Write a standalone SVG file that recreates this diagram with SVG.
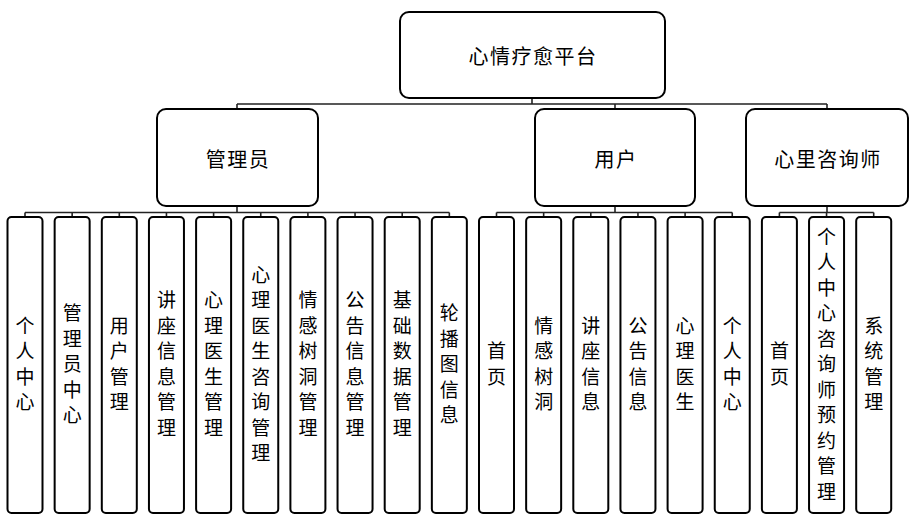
<svg xmlns="http://www.w3.org/2000/svg" width="909" height="525" viewBox="0 0 909 525">
<style>
.box{fill:#fff;stroke:#000;stroke-width:2}
.t{font-family:"Noto Sans CJK SC","Noto Sans",sans-serif;font-size:19px;fill:#000;text-anchor:middle;dominant-baseline:central}
.h{font-size:20px;letter-spacing:1.5px}
.c{fill:none;stroke:#222;stroke-width:1.6}
</style>
<rect width="909" height="525" fill="#fff"/>
<g id="connectors">
<path class="c" d="M532 98V104M237 104H827M237 104V109M615 104V109M827 104V109"/>
<path class="c" d="M237 206V212.5M25 212.5H449.35M25 212.5V217M72.15 212.5V217M119.3 212.5V217M166.45 212.5V217M213.6 212.5V217M260.75 212.5V217M307.9 212.5V217M355.05 212.5V217M402.2 212.5V217M449.35 212.5V217"/>
<path class="c" d="M615 206V212.5M496.5 212.5H732.25M496.5 212.5V217M543.65 212.5V217M590.8 212.5V217M637.95 212.5V217M685.1 212.5V217M732.25 212.5V217"/>
<path class="c" d="M827 206V212.5M779.4 212.5H873.7M779.4 212.5V217M826.55 212.5V217M873.7 212.5V217"/>
</g>
<g id="root"><rect class="box" x="400" y="12" width="265" height="86" rx="9"/><text class="t h" x="533" y="55">心情疗愈平台</text></g>
<g id="admin"><rect class="box" x="157" y="109" width="161" height="97" rx="9"/><text class="t h" x="238" y="158">管理员</text></g>
<g id="user"><rect class="box" x="535" y="109" width="160" height="97" rx="9"/><text class="t h" x="616" y="158">用户</text></g>
<g id="counselor"><rect class="box" x="746" y="109" width="162" height="97" rx="9"/><text class="t h" x="828" y="158">心里咨询师</text></g>
<g id="leaf0"><rect class="box" x="7.5" y="217" width="35" height="296" rx="4"/><text class="t"><tspan x="25" y="323.75">个</tspan><tspan x="25" y="349.25">人</tspan><tspan x="25" y="374.75">中</tspan><tspan x="25" y="400.25">心</tspan></text></g>
<g id="leaf1"><rect class="box" x="54.65" y="217" width="35" height="296" rx="4"/><text class="t"><tspan x="72.15" y="311">管</tspan><tspan x="72.15" y="336.5">理</tspan><tspan x="72.15" y="362">员</tspan><tspan x="72.15" y="387.5">中</tspan><tspan x="72.15" y="413">心</tspan></text></g>
<g id="leaf2"><rect class="box" x="101.8" y="217" width="35" height="296" rx="4"/><text class="t"><tspan x="119.3" y="323.75">用</tspan><tspan x="119.3" y="349.25">户</tspan><tspan x="119.3" y="374.75">管</tspan><tspan x="119.3" y="400.25">理</tspan></text></g>
<g id="leaf3"><rect class="box" x="148.95" y="217" width="35" height="296" rx="4"/><text class="t"><tspan x="166.45" y="298.25">讲</tspan><tspan x="166.45" y="323.75">座</tspan><tspan x="166.45" y="349.25">信</tspan><tspan x="166.45" y="374.75">息</tspan><tspan x="166.45" y="400.25">管</tspan><tspan x="166.45" y="425.75">理</tspan></text></g>
<g id="leaf4"><rect class="box" x="196.1" y="217" width="35" height="296" rx="4"/><text class="t"><tspan x="213.6" y="298.25">心</tspan><tspan x="213.6" y="323.75">理</tspan><tspan x="213.6" y="349.25">医</tspan><tspan x="213.6" y="374.75">生</tspan><tspan x="213.6" y="400.25">管</tspan><tspan x="213.6" y="425.75">理</tspan></text></g>
<g id="leaf5"><rect class="box" x="243.25" y="217" width="35" height="296" rx="4"/><text class="t"><tspan x="260.75" y="272.75">心</tspan><tspan x="260.75" y="298.25">理</tspan><tspan x="260.75" y="323.75">医</tspan><tspan x="260.75" y="349.25">生</tspan><tspan x="260.75" y="374.75">咨</tspan><tspan x="260.75" y="400.25">询</tspan><tspan x="260.75" y="425.75">管</tspan><tspan x="260.75" y="451.25">理</tspan></text></g>
<g id="leaf6"><rect class="box" x="290.4" y="217" width="35" height="296" rx="4"/><text class="t"><tspan x="307.9" y="298.25">情</tspan><tspan x="307.9" y="323.75">感</tspan><tspan x="307.9" y="349.25">树</tspan><tspan x="307.9" y="374.75">洞</tspan><tspan x="307.9" y="400.25">管</tspan><tspan x="307.9" y="425.75">理</tspan></text></g>
<g id="leaf7"><rect class="box" x="337.55" y="217" width="35" height="296" rx="4"/><text class="t"><tspan x="355.05" y="298.25">公</tspan><tspan x="355.05" y="323.75">告</tspan><tspan x="355.05" y="349.25">信</tspan><tspan x="355.05" y="374.75">息</tspan><tspan x="355.05" y="400.25">管</tspan><tspan x="355.05" y="425.75">理</tspan></text></g>
<g id="leaf8"><rect class="box" x="384.7" y="217" width="35" height="296" rx="4"/><text class="t"><tspan x="402.2" y="298.25">基</tspan><tspan x="402.2" y="323.75">础</tspan><tspan x="402.2" y="349.25">数</tspan><tspan x="402.2" y="374.75">据</tspan><tspan x="402.2" y="400.25">管</tspan><tspan x="402.2" y="425.75">理</tspan></text></g>
<g id="leaf9"><rect class="box" x="431.85" y="217" width="35" height="296" rx="4"/><text class="t"><tspan x="449.35" y="311">轮</tspan><tspan x="449.35" y="336.5">播</tspan><tspan x="449.35" y="362">图</tspan><tspan x="449.35" y="387.5">信</tspan><tspan x="449.35" y="413">息</tspan></text></g>
<g id="leaf10"><rect class="box" x="479" y="217" width="35" height="296" rx="4"/><text class="t"><tspan x="496.5" y="349.25">首</tspan><tspan x="496.5" y="374.75">页</tspan></text></g>
<g id="leaf11"><rect class="box" x="526.15" y="217" width="35" height="296" rx="4"/><text class="t"><tspan x="543.65" y="323.75">情</tspan><tspan x="543.65" y="349.25">感</tspan><tspan x="543.65" y="374.75">树</tspan><tspan x="543.65" y="400.25">洞</tspan></text></g>
<g id="leaf12"><rect class="box" x="573.3" y="217" width="35" height="296" rx="4"/><text class="t"><tspan x="590.8" y="323.75">讲</tspan><tspan x="590.8" y="349.25">座</tspan><tspan x="590.8" y="374.75">信</tspan><tspan x="590.8" y="400.25">息</tspan></text></g>
<g id="leaf13"><rect class="box" x="620.45" y="217" width="35" height="296" rx="4"/><text class="t"><tspan x="637.95" y="323.75">公</tspan><tspan x="637.95" y="349.25">告</tspan><tspan x="637.95" y="374.75">信</tspan><tspan x="637.95" y="400.25">息</tspan></text></g>
<g id="leaf14"><rect class="box" x="667.6" y="217" width="35" height="296" rx="4"/><text class="t"><tspan x="685.1" y="323.75">心</tspan><tspan x="685.1" y="349.25">理</tspan><tspan x="685.1" y="374.75">医</tspan><tspan x="685.1" y="400.25">生</tspan></text></g>
<g id="leaf15"><rect class="box" x="714.75" y="217" width="35" height="296" rx="4"/><text class="t"><tspan x="732.25" y="323.75">个</tspan><tspan x="732.25" y="349.25">人</tspan><tspan x="732.25" y="374.75">中</tspan><tspan x="732.25" y="400.25">心</tspan></text></g>
<g id="leaf16"><rect class="box" x="761.9" y="217" width="35" height="296" rx="4"/><text class="t"><tspan x="779.4" y="349.25">首</tspan><tspan x="779.4" y="374.75">页</tspan></text></g>
<g id="leaf17"><rect class="box" x="809.05" y="217" width="35" height="296" rx="4"/><text class="t"><tspan x="826.55" y="234.5">个</tspan><tspan x="826.55" y="260">人</tspan><tspan x="826.55" y="285.5">中</tspan><tspan x="826.55" y="311">心</tspan><tspan x="826.55" y="336.5">咨</tspan><tspan x="826.55" y="362">询</tspan><tspan x="826.55" y="387.5">师</tspan><tspan x="826.55" y="413">预</tspan><tspan x="826.55" y="438.5">约</tspan><tspan x="826.55" y="464">管</tspan><tspan x="826.55" y="489.5">理</tspan></text></g>
<g id="leaf18"><rect class="box" x="856.2" y="217" width="35" height="296" rx="4"/><text class="t"><tspan x="873.7" y="323.75">系</tspan><tspan x="873.7" y="349.25">统</tspan><tspan x="873.7" y="374.75">管</tspan><tspan x="873.7" y="400.25">理</tspan></text></g>
</svg>
